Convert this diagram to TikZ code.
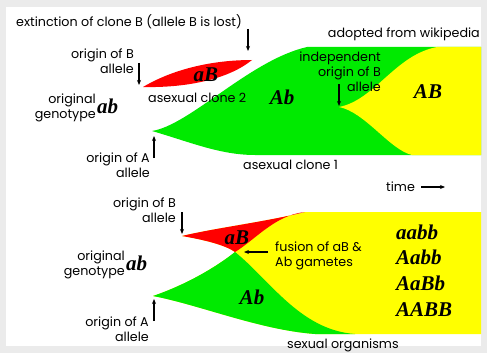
\documentclass[tikz,border=0pt]{standalone}
\usepackage{fontspec}
\setmainfont{Poppins}
\newfontfamily\genofont{Liberation Serif}
\usepackage{xcolor}
\usepackage{tikz}
\usetikzlibrary{arrows.meta,calc,positioning}
\definecolor{cloneRed}{HTML}{FF0000}
\definecolor{cloneGreen}{HTML}{00EA00}
\definecolor{cloneYellow}{HTML}{FFFF00}
\definecolor{frameGray}{HTML}{EBEBEB}
\tikzset{
  lbl/.style={inner sep=0pt,font=\fontsize{12.7}{15}\selectfont},
  geno/.style={inner sep=0pt,font={\genofont\bfseries\itshape\fontsize{21}{23}\selectfont}},
  pointer/.style={->,line width=1.1pt}
}

\begin{document}
\begin{tikzpicture}[x=1pt,y=-1pt,>={Stealth[length=5pt,width=4pt]}]
  \useasboundingbox (0,0) rectangle (487,353);
  \fill[frameGray] (0,0) rectangle (487,353);
  \fill[white] (6,7) rectangle (481,346);

  % asexual organisms
  \fill[cloneRed] (143,87) .. controls (175,68) and (215,60) .. (252,60)
    .. controls (230,78) and (190,88) .. cycle;
  \fill[cloneGreen] (152,131) .. controls (190,125) and (250,60) .. (307,47)
    -- (481,47) -- (481,155) -- (255,155)
    .. controls (220,155) and (190,142) .. cycle;
  \fill[cloneYellow] (339,107) .. controls (375,100) and (395,55) .. (437,47)
    -- (481,47) -- (481,155) -- (412,155)
    .. controls (390,150) and (365,112) .. cycle;

  % sexual organisms
  \fill[cloneYellow] (182,236) .. controls (215,228) and (265,222) .. (305,212)
    -- (481,212) -- (481,334) -- (315,334)
    .. controls (260,330) and (200,305) .. (153,296)
    .. controls (185,285) and (215,268) .. (235,252)
    .. controls (225,245) and (205,240) .. cycle;
  \fill[cloneRed] (182,236) .. controls (215,228) and (265,222) .. (305,212)
    .. controls (275,215) and (255,240) .. (235,252)
    .. controls (225,245) and (205,240) .. cycle;
  \fill[cloneGreen] (153,296) .. controls (185,285) and (215,268) .. (235,252)
    .. controls (270,280) and (300,330) .. (355,334)
    -- (315,334) .. controls (260,330) and (200,305) .. cycle;

  % labels, top
  \node[lbl,anchor=west] (extinct) at (16,22) {extinction of clone B (allele B is lost)};
  \node[lbl,anchor=east] (wiki) at (480,34) {adopted from wikipedia};
  \node[lbl,align=right,anchor=east] (origBtop) at (134,61) {origin of B\\allele};
  \node[lbl,align=right,anchor=east] (origtop) at (96,108) {original\\genotype};
  \node[geno,anchor=west] (abtop) at (97,106) {ab};
  \node[lbl,align=right,anchor=east] (origAtop) at (150,165) {origin of A\\allele};
  \node[lbl,anchor=west] (clone2) at (148,98) {asexual clone 2};
  \node[lbl,anchor=west] (clone1) at (243,165) {asexual clone 1};
  \node[lbl,align=right,anchor=east] (indep) at (381,72) {independent\\origin of B\\allele};
  \node[geno] (aBtop) at (206,75) {aB};
  \node[geno] (Abtop) at (282,97) {Ab};
  \node[geno] (ABtop) at (428,92) {AB};
  \node[lbl,anchor=west] (time) at (386,187) {time};

  % labels, bottom
  \node[lbl,align=right,anchor=east] (origBbot) at (176,210) {origin of B\\allele};
  \node[lbl,align=right,anchor=east] (origbot) at (125,265) {original\\genotype};
  \node[geno,anchor=west] (abbot) at (126,263) {ab};
  \node[lbl,align=right,anchor=east] (origAbot) at (149,329) {origin of A\\allele};
  \node[geno] (aBbot) at (237,238) {aB};
  \node[geno] (Abbot) at (252,297) {Ab};
  \node[lbl,align=left,anchor=west] (fusion) at (275,256) {fusion of aB \&\\Ab gametes};
  \foreach \g [count=\i] in {aabb,Aabb,AaBb,AABB}
    \node[geno,anchor=west] (gen\i) at (396,{232+25.7*(\i-1)}) {\g};
  \node[lbl,anchor=west] (sexual) at (287,345) {sexual organisms};

  % pointers
  \coordinate (extTail) at (248,29);   \coordinate (extTip) at (248,51);
  \coordinate (bTopTail) at (139,63);  \coordinate (bTopTip) at (139,85);
  \coordinate (aTopTail) at (154,158); \coordinate (aTopTip) at (154,136);
  \coordinate (indTail) at (339,84);   \coordinate (indTip) at (339,106);
  \coordinate (bBotTail) at (182,212); \coordinate (bBotTip) at (182,234);
  \coordinate (aBotTail) at (154,321); \coordinate (aBotTip) at (154,299);
  \coordinate (fusTail) at (268,252);  \coordinate (fusTip) at (244,252);
  \coordinate (timeTip) at (445,187);
  \foreach \a/\b in {extTail/extTip,bTopTail/bTopTip,aTopTail/aTopTip,indTail/indTip,
                     bBotTail/bBotTip,aBotTail/aBotTip,fusTail/fusTip}
    \draw[pointer] (\a) -- (\b);
  \draw[pointer,line width=1.6pt] ([xshift=6pt]time.east) -- (timeTip);
\end{tikzpicture}
\end{document}
